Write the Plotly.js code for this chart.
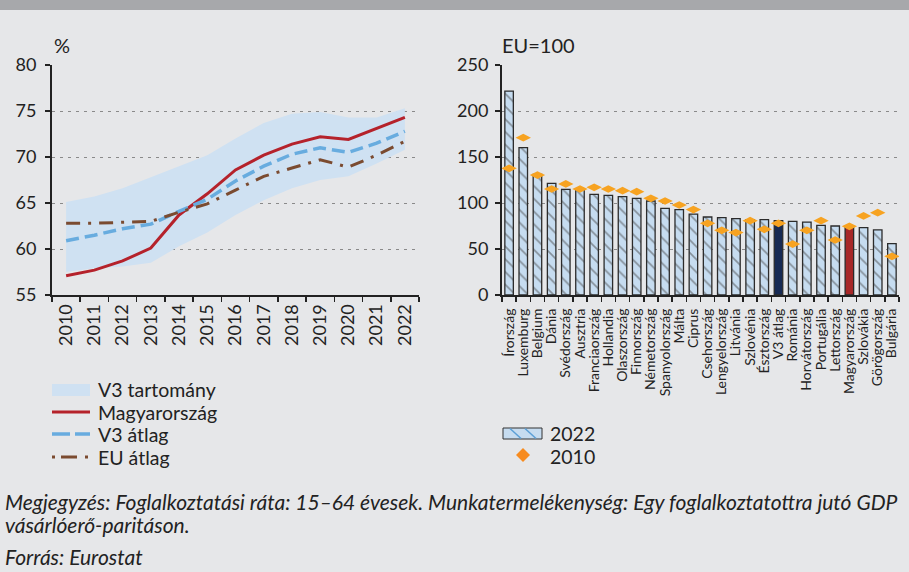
<!DOCTYPE html>
<html>
<head>
<meta charset="utf-8">
<script src="https://cdn.plot.ly/plotly-3.0.1.min.js"></script>
<style>
html,body{margin:0;padding:0;background:#e6e7e9;}
#chart{width:909px;height:572px;}
</style>
</head>
<body>
<div id="chart"></div>
<script>
// ---- Left chart: employment rate (%) ----
const years = ["2010","2011","2012","2013","2014","2015","2016","2017","2018","2019","2020","2021","2022"];
const hungary = [57.1, 57.7, 58.7, 60.1, 63.7, 66.0, 68.6, 70.2, 71.4, 72.2, 71.9, 73.1, 74.3];
const v3Avg   = [60.9, 61.5, 62.2, 62.7, 64.1, 65.4, 67.4, 69.0, 70.3, 71.0, 70.5, 71.5, 72.8];
const euAvg   = [62.8, 62.8, 62.9, 63.0, 64.0, 64.9, 66.4, 67.9, 68.8, 69.7, 68.9, 70.2, 71.7];
const v3Upper = [65.1, 65.7, 66.6, 67.8, 69.0, 70.2, 72.0, 73.7, 74.7, 74.9, 74.3, 74.3, 75.3];
const v3Lower = [57.5, 57.9, 58.1, 58.5, 60.3, 61.8, 63.7, 65.3, 66.6, 67.5, 67.9, 69.3, 70.8];
const leftLegend = ["V3 tartomány", "Magyarország", "V3 átlag", "EU átlag"];

// ---- Right chart: labour productivity (EU=100) ----
const countries = ["Írország","Luxemburg","Belgium","Dánia","Svédország","Ausztria","Franciaország","Hollandia","Olaszország","Finnország","Németország","Spanyolország","Málta","Ciprus","Csehország","Lengyelország","Litvánia","Szlovénia","Észtország","V3 átlag","Románia","Horvátország","Portugália","Lettország","Magyarország","Szlovákia","Görögország","Bulgária"];
const prod2022 = [221.7, 160.1, 131.2, 121.4, 114.9, 114.1, 109.4, 108.3, 106.9, 105.1, 102.2, 94.2, 92.8, 88.0, 84.8, 84.1, 83.0, 81.9, 81.9, 80.8, 80.1, 79.3, 75.7, 75.0, 74.3, 73.2, 70.7, 55.8];
const prod2010 = [137.7, 171.0, 130.4, 115.2, 120.7, 115.2, 117.0, 115.2, 113.4, 112.3, 105.1, 102.2, 97.8, 92.8, 77.9, 70.3, 67.8, 80.8, 71.4, 77.9, 55.4, 70.3, 80.8, 59.8, 74.6, 85.9, 89.5, 42.0];
const rightLegend = ["2022", "2010"];

const noteLine1 = "Megjegyzés: Foglalkoztatási ráta: 15–64 évesek. Munkatermelékenység: Egy foglalkoztatottra jutó GDP";
const noteLine2 = "vásárlóerő-paritáson.";
const noteLine3 = "Forrás: Eurostat";

const FONT = "Lato, 'Noto Sans', sans-serif";
const BG = "#e6e7e9";
const W = 909, H = 572;
const px = v => v / W, py = v => 1 - v / H;

const barColors = countries.map(c => c === "V3 átlag" ? "#172a54" : (c === "Magyarország" ? "#a82828" : "#c6dcf0"));
const barShapes = countries.map(c => (c === "V3 átlag" || c === "Magyarország") ? "" : "\\");

const C_BAND = "#cfe1f2", C_HU = "#b5222b", C_V3 = "#68acdf", C_EU = "#7b4b30", C_DIA = "#f7a321";

const traces = [
  {x: years, y: v3Lower, type: "scatter", mode: "lines", line: {width: 0, color: C_BAND},
   hoverinfo: "skip", xaxis: "x", yaxis: "y"},
  {x: years, y: v3Upper, type: "scatter", mode: "lines", fill: "tonexty", fillcolor: C_BAND,
   line: {width: 0, color: C_BAND}, name: leftLegend[0], xaxis: "x", yaxis: "y"},
  {x: years, y: hungary, type: "scatter", mode: "lines", line: {color: C_HU, width: 3},
   name: leftLegend[1], xaxis: "x", yaxis: "y"},
  {x: years, y: v3Avg, type: "scatter", mode: "lines", line: {color: C_V3, width: 3.5, dash: "13px,6px"},
   name: leftLegend[2], xaxis: "x", yaxis: "y"},
  {x: years, y: euAvg, type: "scatter", mode: "lines", line: {color: C_EU, width: 3, dash: "14px,8px,3px,8px"},
   name: leftLegend[3], xaxis: "x", yaxis: "y"},
  {x: countries, y: prod2022, type: "bar", width: 0.6, name: rightLegend[0],
   marker: {color: barColors, line: {color: "#2b2b2b", width: 1.3},
            pattern: {shape: barShapes, fgcolor: "#5b9fd6", size: 9, solidity: 0.18, fillmode: "overlay"}},
   xaxis: "x2", yaxis: "y2"},
  {x: countries, y: prod2010, type: "scatter", mode: "markers", name: rightLegend[1],
   marker: {symbol: "diamond-wide", size: 11, color: C_DIA}, xaxis: "x2", yaxis: "y2"}
];

const yTop = py(65), yBot = py(295);
const axisCommon = {showline: true, linecolor: "#222", linewidth: 2, ticks: "outside", ticklen: 5,
  tickcolor: "#222", tickwidth: 1.5, tickfont: {family: FONT, size: 18, color: "#222"}};

// Legend drawn as shapes + text (symbols only; not data marks)
const shapes = [
  {type: "rect", xref: "paper", yref: "paper", x0: 0, x1: 1, y0: py(10), y1: 1,
   fillcolor: "#a7a8ab", line: {width: 0}, layer: "below"},
  {type: "rect", xref: "paper", yref: "paper", x0: px(52), x1: px(90), y0: py(396), y1: py(384),
   fillcolor: C_BAND, line: {width: 0}},
  {type: "line", xref: "paper", yref: "paper", x0: px(52), x1: px(90), y0: py(412), y1: py(412),
   line: {color: C_HU, width: 3}},
  {type: "line", xref: "paper", yref: "paper", x0: px(52), x1: px(90), y0: py(434), y1: py(434),
   line: {color: C_V3, width: 3.5, dash: "18px,5px"}},
  {type: "line", xref: "paper", yref: "paper", x0: px(52), x1: px(90), y0: py(457), y1: py(457),
   line: {color: C_EU, width: 3, dash: "3px,6px,16px,8px"}},
  {type: "rect", xref: "paper", yref: "paper", x0: px(503), x1: px(542), y0: py(439), y1: py(428),
   fillcolor: "#c6dcf0", line: {color: "#333", width: 1}},
  {type: "line", xref: "paper", yref: "paper", x0: px(510), x1: px(521), y0: py(428.5), y1: py(438.5),
   line: {color: "#5b9fd6", width: 1.5}},
  {type: "line", xref: "paper", yref: "paper", x0: px(525), x1: px(536), y0: py(428.5), y1: py(438.5),
   line: {color: "#5b9fd6", width: 1.5}},
  {type: "path", xref: "paper", yref: "paper",
   path: `M${px(523)},${py(448)} L${px(530)},${py(455)} L${px(523)},${py(462)} L${px(516)},${py(455)} Z`,
   fillcolor: "#f78b1f", line: {width: 0}}
];

const txt = (text, x, y, size, extra) => Object.assign({text: text, xref: "paper", yref: "paper",
  x: px(x), y: py(y), xanchor: "left", yanchor: "middle", showarrow: false,
  font: {family: FONT, size: size, color: "#222"}}, extra || {});
const note = (text, y) => txt(text, 3, y, 21, {font: {family: FONT, size: 21, color: "#222", style: "italic"}});

const LG = 19.5;
const annotations = [
  txt("%", 52, 45, 20),
  txt("EU=100", 500, 45, 20),
  txt(leftLegend[0], 96, 390, LG),
  txt(leftLegend[1], 96, 412, LG),
  txt(leftLegend[2], 96, 434, LG),
  txt(leftLegend[3], 96, 457, LG),
  txt(rightLegend[0], 548, 433, LG),
  txt(rightLegend[1], 548, 456, LG),
  note(noteLine1, 501),
  note(noteLine2, 524),
  note(noteLine3, 556)
];

const layout = {
  width: W, height: H,
  paper_bgcolor: BG, plot_bgcolor: BG,
  margin: {l: 0, r: 0, t: 0, b: 0},
  font: {family: FONT, color: "#222"},
  showlegend: false,
  xaxis: Object.assign({}, axisCommon, {domain: [px(52), px(419)], anchor: "y", type: "category",
    range: [-0.5, 12.5], tickson: "boundaries", tickangle: -90, showgrid: false,
    tickmode: "array", tickvals: years, ticktext: years}),
  yaxis: Object.assign({}, axisCommon, {domain: [yBot, yTop], anchor: "x", range: [55, 80], dtick: 5,
    ticklabelstandoff: 5,
    showgrid: true, gridcolor: "#8a8a8a", griddash: "3px,5px", gridwidth: 1, zeroline: false}),
  xaxis2: Object.assign({}, axisCommon, {domain: [px(502), px(899)], anchor: "y2", type: "category",
    range: [-0.5, 27.5], tickson: "boundaries", tickangle: -90, showgrid: false,
    tickmode: "array", tickvals: countries, ticktext: countries, ticklabelstandoff: 6,
    tickfont: {family: FONT, size: 14, color: "#222"}}),
  yaxis2: Object.assign({}, axisCommon, {domain: [yBot, yTop], anchor: "x2", range: [0, 250], dtick: 50,
    ticklabelstandoff: 3,
    showgrid: true, gridcolor: "#8a8a8a", griddash: "3px,5px", gridwidth: 1, zeroline: false}),
  shapes: shapes,
  annotations: annotations
};

Plotly.newPlot("chart", traces, layout, {displayModeBar: false, staticPlot: true});
</script>
</body>
</html>
